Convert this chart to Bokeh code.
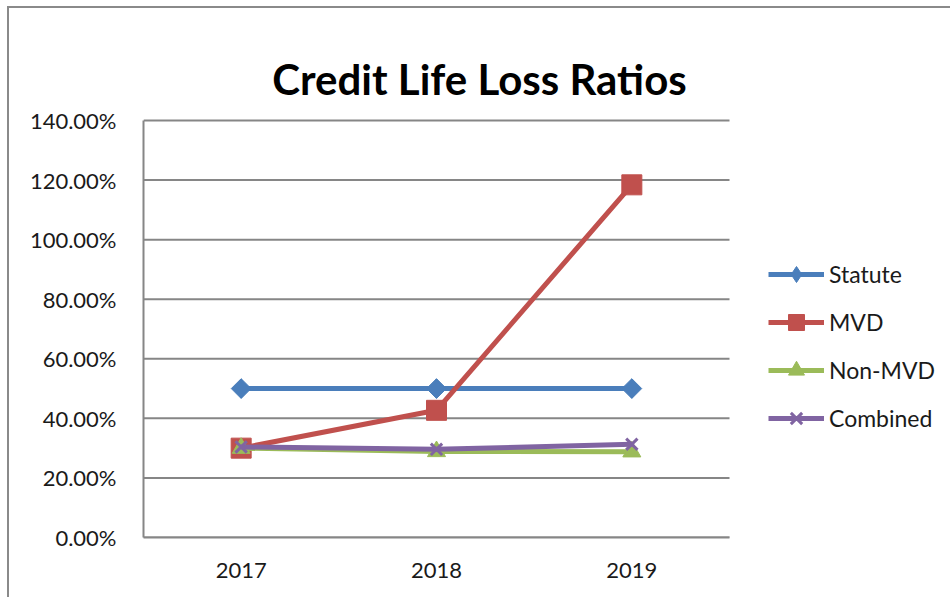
import math
from bokeh.plotting import figure
from bokeh.models import Legend, LegendItem, NumeralTickFormatter, FixedTicker, Label
from bokeh.embed import file_html
from bokeh.resources import INLINE

years = ["2017", "2018", "2019"]
statute = [0.50, 0.50, 0.50]
mvd = [0.30, 0.427, 1.184]
non_mvd = [0.30, 0.289, 0.288]
combined = [0.304, 0.296, 0.313]
y_ticks = [0.0, 0.2, 0.4, 0.6, 0.8, 1.0, 1.2, 1.4]
title_text = "Credit Life Loss Ratios"

FONT = "Lato"
GRID = "#868686"

# layout (pixels on the canvas)
W, H = 943, 591
PL, PR = 134, 720      # plot area left/right
PT, PB = 112, 529      # plot area top/bottom
n = len(years)
ymax = y_ticks[-1]
xs = [i + 0.5 for i in range(n)]
x_end = n + (W - PR) * n / (PR - PL)
y_end = PB * ymax / (PB - PT)

p = figure(width=W, height=H, x_range=(0, x_end), y_range=(0, y_end),
           output_backend="svg", toolbar_location=None,
           min_border_left=PL, min_border_right=0, min_border_top=0,
           min_border_bottom=H - PB)
p.styles = {"border-top": "2px solid #8a8a8a", "border-left": "2px solid #8a8a8a",
            "margin-left": "7px", "margin-top": "6px"}
p.outline_line_color = None
p.xgrid.grid_line_color = None
p.ygrid.grid_line_color = None
# horizontal gridlines limited to the plot area
p.segment(x0=0, x1=n, y0=y_ticks, y1=y_ticks, line_color=GRID, line_width=2)

p.yaxis.ticker = FixedTicker(ticks=y_ticks)
p.yaxis.formatter = NumeralTickFormatter(format="0.00%")
p.yaxis.bounds = (0, ymax)
p.xaxis.ticker = FixedTicker(ticks=xs)
p.xaxis.major_label_overrides = {x: y for x, y in zip(xs, years)}
p.xaxis.bounds = (0, n)
for ax in (p.xaxis[0], p.yaxis[0]):
    ax.axis_line_color = GRID
    ax.axis_line_width = 2
    ax.major_tick_line_color = None
    ax.minor_tick_line_color = None
    ax.major_label_text_font = FONT
    ax.major_label_text_font_size = "22px"
    ax.major_label_text_color = "#1a1a1a"
p.yaxis.major_label_standoff = 21
p.xaxis.major_label_standoff = 19

series = [
    ("Statute", statute, "#4A7EBB", "square", 14, math.pi / 4, "diamond"),
    ("MVD", mvd, "#C0504D", "square", 20, 0, None),
    ("Non-MVD", non_mvd, "#9BBB59", "triangle", 18, 0, None),
    ("Combined", combined, "#8064A2", "x", 16, 0, None),
]
items = []
for name, vals, color, marker, size, ang, leg_marker in series:
    l = p.line(xs, vals, line_color=color, line_width=5)
    leg = None
    if leg_marker:
        # diamond drawn beneath the rotated square; used as the legend symbol
        leg = p.scatter(xs, vals, marker=leg_marker, size=19, fill_color=color,
                        line_color=color)
    s = p.scatter(xs, vals, marker=marker, size=size, angle=ang, fill_color=color,
                  line_color=color, line_width=3 if marker == "x" else 1)
    items.append(LegendItem(label=name, renderers=[l, leg or s]))

legend = Legend(items=items, location=(625, 99), glyph_width=56, glyph_height=40,
                label_height=40, spacing=8, padding=0, margin=0, label_standoff=5,
                label_text_font=FONT, label_text_font_size="23px",
                label_text_color="#1a1a1a", border_line_color=None,
                background_fill_alpha=0)
p.add_layout(legend, "center")

title = Label(x=336, y=459, x_units="screen", y_units="screen", text=title_text,
              text_font=FONT, text_font_style="bold", text_font_size="42px",
              text_align="center", text_baseline="alphabetic", text_color="black")
p.add_layout(title)

open("out.html", "w").write(file_html(p, INLINE))
